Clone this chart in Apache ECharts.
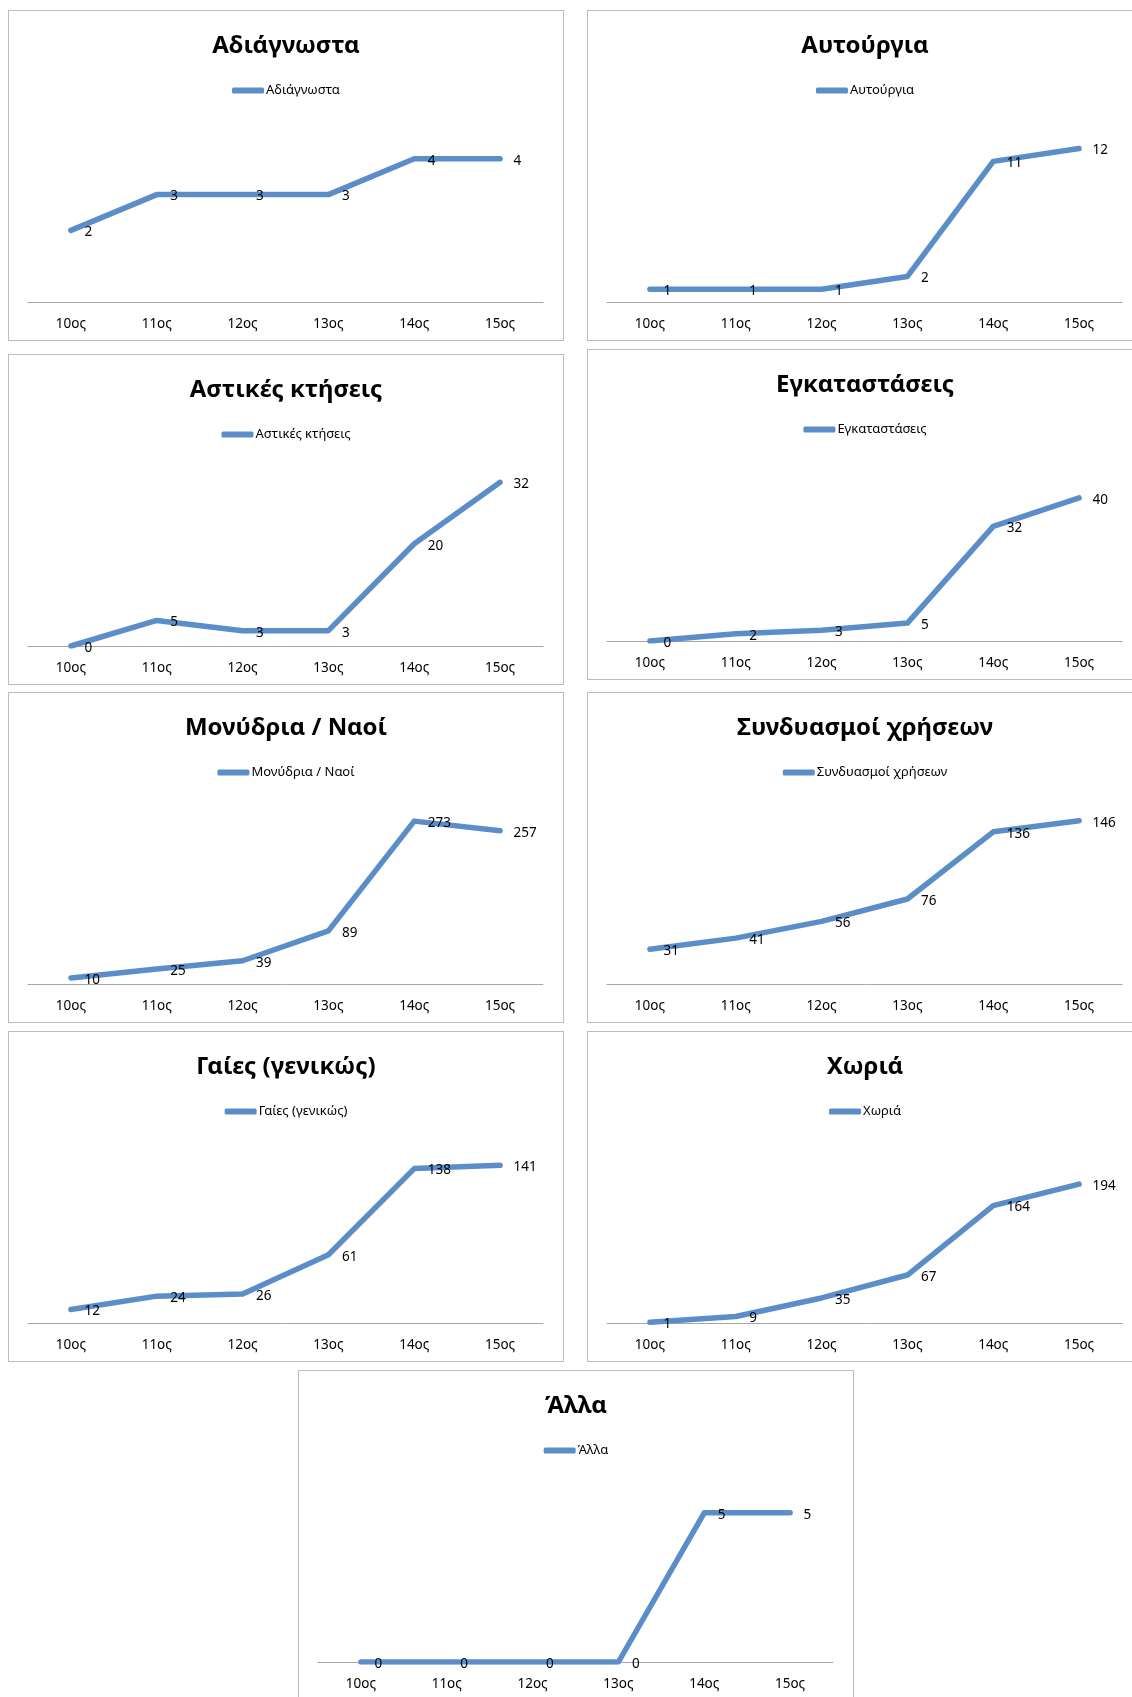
<!DOCTYPE html>
<html><head><meta charset="utf-8">
<script src="https://cdn.jsdelivr.net/npm/echarts@6/dist/echarts.min.js"></script>
<style>
html,body{margin:0;padding:0;background:#fff;}
body{width:1132px;height:1697px;overflow:hidden;position:relative;}
.p{position:absolute;width:556px;height:331px;box-sizing:border-box;border:1px solid #bcbcbc;background:#fff;}
.c{position:absolute;left:0;top:0;width:554px;height:329px;}
</style></head><body>
<script>
// ---- data ----
const categories = ['10ος','11ος','12ος','13ος','14ος','15ος'];
const adiagnosta = [2,3,3,3,4,4];
const autourgia = [1,1,1,2,11,12];
const astikes = [0,5,3,3,20,32];
const egkatastaseis = [0,2,3,5,32,40];
const monydria = [10,25,39,89,273,257];
const syndyasmoi = [31,41,56,76,136,146];
const gaies = [12,24,26,61,138,141];
const choria = [1,9,35,67,164,194];
const alla = [0,0,0,0,5,5];

const seriesNames = ['Αδιάγνωστα','Αυτούργια','Αστικές κτήσεις','Εγκαταστάσεις','Μονύδρια / Ναοί','Συνδυασμοί χρήσεων','Γαίες (γενικώς)','Χωριά','Άλλα'];
const seriesData = [adiagnosta, autourgia, astikes, egkatastaseis, monydria, syndyasmoi, gaies, choria, alla];
const axisMax = [5,14,35,50,300,160,160,250,6];

// ---- layout ----
const layout = [
  {left:8, top:10}, {left:587, top:10},
  {left:8, top:354}, {left:587, top:349},
  {left:8, top:692}, {left:587, top:692},
  {left:8, top:1031}, {left:587, top:1031},
  {left:298, top:1370}
];

const FONT = '"Noto Sans", "DejaVu Sans", sans-serif';
const BLUE = '#5b8ec9';

seriesNames.forEach((name, i) => {
  const p = document.createElement('div');
  p.className = 'p';
  p.style.left = layout[i].left + 'px';
  p.style.top = layout[i].top + 'px';
  const c = document.createElement('div');
  c.className = 'c';
  p.appendChild(c);
  document.body.appendChild(p);
  const chart = echarts.init(c, null, {renderer:'canvas'});
  chart.setOption({
    animation: false,
    backgroundColor: '#fff',
    title: {
      text: name, left: 'center', top: 18,
      textStyle: {fontFamily: FONT, fontSize: 24, fontWeight: 'bold', color: '#000'}
    },
    legend: {
      data: [name], left: 'center', top: 68,
      icon: 'roundRect', itemWidth: 32, itemHeight: 6, itemGap: 5,
      textStyle: {fontFamily: FONT, fontSize: 13, color: '#000', padding: [0,0,0,-3]}
    },
    grid: {left: 19, right: 20, top: 112, bottom: 38, containLabel: false},
    xAxis: {
      type: 'category', data: categories, boundaryGap: true,
      axisLine: {show: true, lineStyle: {color: '#a6a6a6', width: 1}},
      axisTick: {show: false},
      axisLabel: {fontFamily: FONT, fontSize: 13.5, color: '#000', margin: 15}
    },
    yAxis: {
      type: 'value', min: 0, max: axisMax[i],
      axisLine: {show: false}, axisTick: {show: false},
      axisLabel: {show: false}, splitLine: {show: false}
    },
    series: [{
      name: name, type: 'line', data: seriesData[i],
      symbol: 'circle', symbolSize: 1, showSymbol: true,
      itemStyle: {color: BLUE},
      lineStyle: {color: BLUE, width: 5.5, cap: 'round', join: 'round'},
      label: {show: true, position: 'right', distance: 13, offset: [0, 2],
              fontFamily: FONT, fontSize: 13.5, color: '#000'},
      emphasis: {disabled: true}
    }]
  });
});
</script>
</body></html>
